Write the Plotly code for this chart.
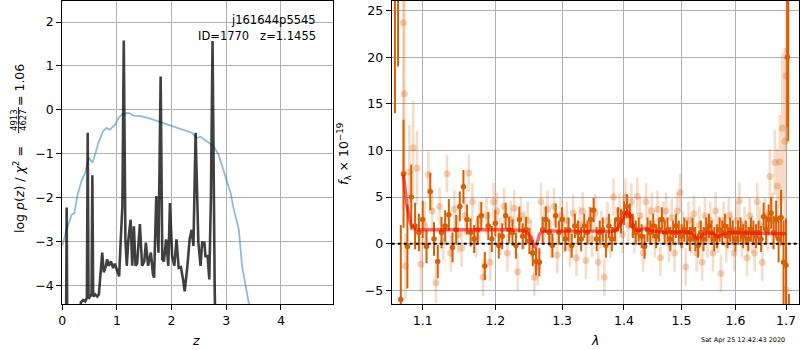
import plotly.graph_objects as go

# ---------------- left panel data ----------------
pz_z = [0.065, 0.08, 0.095, 0.30, 0.34, 0.38, 0.42, 0.45, 0.465, 0.48, 0.50, 0.535, 0.55, 0.565,
        0.60, 0.64, 0.67, 0.70, 0.73, 0.76, 0.80, 0.82, 0.85, 0.89, 0.93, 0.96, 0.99, 1.02, 1.04,
        1.07, 1.10, 1.125, 1.155, 1.18, 1.21, 1.25, 1.28, 1.31, 1.34, 1.37, 1.42, 1.46, 1.50, 1.53,
        1.57, 1.62, 1.66, 1.68, 1.72, 1.76, 1.80, 1.83, 1.86, 1.90, 1.94, 1.97, 2.01, 2.05, 2.09,
        2.13, 2.17, 2.21, 2.24, 2.29, 2.33, 2.37, 2.40, 2.44, 2.49, 2.53, 2.56, 2.60, 2.62, 2.66,
        2.69, 2.72, 2.75, 2.79, 2.82]
pz_logp = [-6, -2.22, -6, -6, -4.38, -4.33, -4.36, -4.28, -0.52, -4.3, -4.25, -4.2, -1.49, -4.25,
           -4.2, -4.25, -4.2, -3.8, -3.25, -3.7, -3.55, -3.4, -3.55, -3.45, -3.6, -3.5, -3.62, -3.7, -3.79,
           -2.95, -2.19, 1.58, -2.95, -3.55, -2.95, -2.5, -3.55, -2.65, -3.55, -3.5, -2.6, -3.55, -3.45, -3.02,
           -3.55, -3.25, -3.75, -3.82, -1.96, -3.25, 0.76, -3.4, -3.45, -2.95, -3.55, -2.12, -3.33, -3.55, -2.95,
           -3.6, -3.58, -3.86, -4.13, -3.55, -2.95, -2.73, -3.1, -0.52, -3.02, -3.55, -3.02, -3.02, -3.33, -3.33,
           -3.86, -2.0, 1.57, -4.16, -6]

prior_z = [0.0, 0.08, 0.17, 0.22, 0.275, 0.32, 0.35, 0.42, 0.48, 0.51, 0.55, 0.6, 0.66, 0.75, 0.81,
           0.87, 0.97, 1.03, 1.09, 1.18, 1.24, 1.3, 1.43, 1.61, 1.79, 1.98, 2.16, 2.37, 2.46, 2.53,
           2.65, 2.77, 2.86, 2.95, 3.08, 3.14, 3.23, 3.29, 3.35, 3.43, 3.5]
prior_logp = [-3.1, -2.72, -2.39, -2.35, -1.96, -1.77, -1.62, -1.43, -1.09, -1.13, -1.2, -1.02, -0.75, -0.48, -0.41,
              -0.45, -0.33, -0.18, -0.11, -0.07, -0.08, -0.13, -0.14, -0.2, -0.27, -0.36, -0.43, -0.52, -0.64, -0.61,
              -0.71, -0.83, -1.02, -1.36, -1.89, -2.27, -2.72, -3.55, -3.93, -4.4, -5.0]

left_xticks = [0, 1, 2, 3, 4]
left_yticks = [-4, -3, -2, -1, 0, 1, 2]

# ---------------- right panel data ----------------
dark_wave = [1.064, 1.068, 1.0715,
             1.075, 1.080, 1.085, 1.090, 1.095, 1.100, 1.105, 1.110, 1.115, 1.120, 1.125, 1.130, 1.135,
             1.140, 1.145, 1.150, 1.155, 1.160, 1.165, 1.170, 1.175, 1.180, 1.185, 1.190, 1.195, 1.200,
             1.205, 1.210, 1.215, 1.220, 1.225, 1.230, 1.235, 1.240, 1.245, 1.250, 1.255, 1.260, 1.265,
             1.270, 1.275, 1.280, 1.285, 1.290, 1.295, 1.300, 1.305, 1.310, 1.315, 1.320, 1.325, 1.330,
             1.335, 1.340, 1.345, 1.350, 1.355, 1.360, 1.365, 1.370, 1.375, 1.380, 1.385, 1.390, 1.395,
             1.400, 1.405, 1.410, 1.415, 1.420, 1.425, 1.430, 1.435, 1.440, 1.445, 1.450, 1.455, 1.460,
             1.465, 1.470, 1.475, 1.480, 1.485, 1.490, 1.495, 1.500, 1.505, 1.510, 1.515, 1.520, 1.525,
             1.530, 1.535, 1.540, 1.545, 1.550, 1.555, 1.560, 1.565, 1.570, 1.575, 1.580, 1.585, 1.590,
             1.595, 1.600, 1.605, 1.610, 1.615, 1.620, 1.625, 1.630, 1.635, 1.640, 1.645, 1.650, 1.655,
             1.660, 1.665, 1.670, 1.675, 1.680, 1.685, 1.690, 1.695, 1.700,
             1.7027, 1.7045, 1.706]
dark_flux = [30.0, 32.0, -6.0,
             7.5, -0.3, 5.0, 1.9, 1.2, 2.6, -0.3, 5.6, 0.5, -1.9, 1.2, 1.9, 3.1,
             -0.4, 1.5, 4.0, 6.1, 2.6, 1.2, 0.5, 1.5, 3.0, -2.4, 1.9, 0.5, 2.2,
             -0.2, 0.8, 3.0, 1.5, 1.2, -0.2, 2.6, 0.8, 1.5, 0.3, -1.0, -1.9, -2.0,
             1.5, 2.6, 1.2, -0.2, 3.0, 1.2, 2.6, 0.5, 1.5, -0.2, 1.9, 1.2, 0.5,
             1.9, 1.2, 2.6, 3.6, 0.5, 1.2, 1.5, -0.2, 1.9, 0.5, 1.5, 2.6, 2.4,
             3.3, 4.0, 3.0, 1.9, 1.2, 1.5, 0.8, -0.3, 1.5, 1.2, 1.9, 0.8, 1.5,
             2.6, 1.2, 1.5, 0.5, 1.2, 1.9, 1.2, 0.8, 1.5, 1.2, 0.5, 1.5, 0.5,
             -0.2, 1.2, 0.5, 1.5, 1.9, 1.2, 0.5, 0.8, 1.5, 1.2, 1.9, 0.8, 1.5,
             1.2, 0.5, 1.2, 1.5, 0.8, 1.2, 0.5, 1.5, 1.2, 0.8, 1.2, 0.5, 2.9,
             1.5, 2.6, 3.3, 1.2, 2.6, 0.5, 2.8, -2.0, -2.3,
             20.0, 27.0, -9.0]
dark_err = [16.0, 13.0, 8.0,
            5.8, 4.5, 3.5, 2.5, 2.0, 2.0, 1.8, 2.0, 1.8, 1.8, 1.7, 1.7, 1.7,
            1.6, 1.6, 1.6, 1.8, 1.6, 1.5, 1.5, 1.5, 1.5, 1.5, 1.5, 1.4, 1.4,
            1.4, 1.4, 1.4, 1.4, 1.4, 1.4, 1.4, 1.4, 1.4, 1.4, 1.4, 1.5, 1.5,
            1.4, 1.4, 1.4, 1.3, 1.3, 1.3, 1.3, 1.3, 1.3, 1.3, 1.3, 1.3, 1.3,
            1.3, 1.3, 1.3, 1.3, 1.3, 1.3, 1.3, 1.3, 1.3, 1.3, 1.3, 1.3, 1.3,
            1.3, 1.3, 1.3, 1.3, 1.3, 1.3, 1.3, 1.3, 1.3, 1.3, 1.3, 1.3, 1.3,
            1.3, 1.3, 1.3, 1.3, 1.3, 1.3, 1.3, 1.3, 1.3, 1.3, 1.3, 1.3, 1.3,
            1.3, 1.3, 1.3, 1.3, 1.3, 1.3, 1.3, 1.3, 1.3, 1.3, 1.3, 1.3, 1.3,
            1.3, 1.3, 1.3, 1.3, 1.3, 1.3, 1.3, 1.3, 1.3, 1.3, 1.3, 1.4, 1.5,
            1.5, 1.6, 1.7, 1.8, 2.0, 2.5, 3.0, 4.5, 5.0,
            7.5, 16.0, 3.6]

light_wave = [1.0747, 1.0761,
              1.0775, 1.0825, 1.0875, 1.0925, 1.0975, 1.1025, 1.1075, 1.1125, 1.1175, 1.1225, 1.1275,
              1.1325, 1.1375, 1.1425, 1.1475, 1.1525, 1.1575, 1.1625, 1.1675, 1.1725, 1.1775, 1.1825,
              1.1875, 1.1925, 1.1975, 1.2025, 1.2075, 1.2125, 1.2175, 1.2225, 1.2275, 1.2325, 1.2375,
              1.2425, 1.2475, 1.2525, 1.2575, 1.2625, 1.2675, 1.2725, 1.2775, 1.2825, 1.2875, 1.2925,
              1.2975, 1.3025, 1.3075, 1.3125, 1.3175, 1.3225, 1.3275, 1.3325, 1.3375, 1.3425, 1.3475,
              1.3525, 1.3575, 1.3625, 1.3675, 1.3725, 1.3775, 1.3825, 1.3875, 1.3925, 1.3975, 1.4025,
              1.4075, 1.4125, 1.4175, 1.4225, 1.4275, 1.4325, 1.4375, 1.4425, 1.4475, 1.4525, 1.4575,
              1.4625, 1.4675, 1.4725, 1.4775, 1.4825, 1.4875, 1.4925, 1.4975, 1.5025, 1.5075, 1.5125,
              1.5175, 1.5225, 1.5275, 1.5325, 1.5375, 1.5425, 1.5475, 1.5525, 1.5575, 1.5625, 1.5675,
              1.5725, 1.5775, 1.5825, 1.5875, 1.5925, 1.5975, 1.6025, 1.6075, 1.6125, 1.6175, 1.6225,
              1.6275, 1.6325, 1.6375, 1.6425, 1.6475, 1.6525, 1.6575, 1.6625, 1.6675, 1.6725, 1.6775,
              1.6825, 1.6875, 1.6925, 1.6975, 1.700, 1.7005]
light_flux = [23.7, 16.1,
              -2.4, 7.7, 10.3, 8.1, -2.2, 2.0, 7.4, 3.5, -4.2, 4.0, 0.2,
              7.5, -1.0, 3.7, 1.0, -0.5, 3.0, 7.6, 4.5, 0.5, 2.5, -3.6,
              3.0, -2.0, 4.5, 3.5, 0.8, 4.0, -1.0, 2.6, 3.8, -3.0, 3.0,
              1.5, 2.5, 0.5, -3.6, -2.5, 4.5, 2.0, 3.7, 0.5, 4.0, -1.2,
              3.0, 1.0, 2.5, -0.5, 3.3, -1.5, 2.0, 3.5, -1.8, 2.0, 0.5,
              3.3, -2.0, 1.5, -3.6, 2.5, 0.5, 5.0, 2.0, 3.5, 1.0, 5.0,
              2.0, 4.5, 1.0, 5.1, 3.0, -1.0, 4.5, 2.0, 3.5, 0.5, 3.7,
              -1.5, 2.5, 3.5, 0.0, 2.8, -1.0, 3.5, 5.5, 1.5, -2.5, 2.5,
              1.0, 3.2, -1.0, 2.0, -2.0, 3.0, 0.5, 2.5, -1.0, 3.5, 1.0,
              -3.2, 2.5, 0.0, 3.0, 1.5, -1.0, 2.5, 4.6, 0.5, 2.0, -1.5,
              3.0, 1.0, -1.0, 4.5, 2.0, -2.0, 3.0, 1.5, 7.2, 2.5, 8.7,
              6.2, 8.8, 12.4, 11.0, 18.0, -4.9]
light_err = [20.0, 12.0,
             3.5, 5.0, 5.0, 4.0, 3.0, 2.5, 2.5, 2.2, 2.2, 2.0, 2.0,
             2.0, 2.0, 2.0, 2.0, 2.0, 2.0, 2.0, 2.0, 2.0, 2.0, 2.0,
             2.0, 2.0, 2.0, 2.0, 2.0, 2.0, 2.0, 2.0, 2.0, 2.0, 2.0,
             2.0, 2.0, 2.0, 2.0, 2.0, 2.0, 2.0, 2.0, 2.0, 2.0, 2.0,
             2.0, 2.0, 2.0, 2.0, 2.0, 2.0, 2.0, 2.0, 2.0, 2.0, 2.0,
             2.0, 2.0, 2.0, 2.0, 2.0, 2.0, 2.0, 2.0, 2.0, 2.0, 2.0,
             2.0, 2.0, 2.0, 2.0, 2.0, 2.0, 2.0, 2.0, 2.0, 2.0, 2.0,
             2.0, 2.0, 2.0, 2.0, 2.0, 2.0, 2.0, 2.0, 2.0, 2.0, 2.0,
             2.0, 2.0, 2.0, 2.0, 2.0, 2.0, 2.0, 2.0, 2.0, 2.0, 2.0,
             2.0, 2.0, 2.0, 2.0, 2.0, 2.0, 2.0, 2.0, 2.0, 2.0, 2.0,
             2.0, 2.0, 2.0, 2.0, 2.0, 2.0, 2.0, 2.2, 3.0, 3.0, 3.5,
             4.0, 5.0, 8.0, 10.0, 8.0, 5.0]

model_wave = [1.0745, 1.076, 1.078, 1.080, 1.083, 1.0856, 1.0904, 1.10, 1.15, 1.20, 1.235, 1.245,
              1.252, 1.258, 1.262, 1.266, 1.275, 1.30, 1.35, 1.385, 1.393, 1.400, 1.406, 1.411,
              1.417, 1.425, 1.436, 1.445, 1.46, 1.50, 1.515, 1.522, 1.527, 1.533, 1.540, 1.546,
              1.556, 1.562, 1.567, 1.575, 1.589, 1.62, 1.66, 1.70]
model_flux = [7.4, 6.6, 5.2, 3.8, 2.6, 1.9, 1.55, 1.5, 1.5, 1.5, 1.45, 1.25,
              0.7, -0.35, 0.2, 1.1, 1.35, 1.35, 1.35, 1.4, 2.0, 2.9, 3.45, 2.9,
              1.6, 1.4, 1.65, 1.45, 1.25, 1.25, 1.2, 0.95, 0.6, 0.7, 1.0, 1.15,
              1.1, 0.9, 0.75, 0.95, 1.2, 1.15, 1.1, 1.07]

right_xticks = [1.1, 1.2, 1.3, 1.4, 1.5, 1.6, 1.7]
right_xticktext = ["1.1", "1.2", "1.3", "1.4", "1.5", "1.6", "1.7"]
right_yticks = [-5, 0, 5, 10, 15, 20, 25]
flux_range = [-6.47, 26.04]
zero_level = 0

title_lines = ["j161644p5545", "ID=1770   z=1.1455"]
timestamp = "Sat Apr 25 12:42:43 2020"

# ---------------- figure ----------------
W, H = 800, 350
FONT = "DejaVu Sans"
ORANGE = "rgb(217,95,2)"
LIGHT_BAR = "rgba(217,95,2,0.22)"
LIGHT_MK = "rgba(217,95,2,0.28)"


def minus_labels(vals):
    return [("\u2212" + str(-v)) if v < 0 else str(v) for v in vals]


fig = go.Figure()

fig.add_trace(go.Scatter(x=prior_z, y=prior_logp, mode="lines",
                         line=dict(color="rgba(31,119,180,0.5)", width=1.8),
                         xaxis="x", yaxis="y", showlegend=False))
fig.add_trace(go.Scatter(x=pz_z, y=pz_logp, mode="lines",
                         line=dict(color="rgba(0,0,0,0.75)", width=2.6),
                         xaxis="x", yaxis="y", showlegend=False))

fig.add_trace(go.Scatter(x=light_wave, y=light_flux, mode="markers",
                         marker=dict(color=LIGHT_MK, size=7, line=dict(width=0)),
                         error_y=dict(type="data", array=light_err, color=LIGHT_BAR,
                                      thickness=2.6, width=0),
                         xaxis="x2", yaxis="y2", showlegend=False))
fig.add_trace(go.Scatter(x=dark_wave, y=dark_flux, mode="markers",
                         marker=dict(color=ORANGE, size=5.5, line=dict(width=0)),
                         error_y=dict(type="data", array=dark_err, color=ORANGE,
                                      thickness=2.0, width=0),
                         xaxis="x2", yaxis="y2", showlegend=False))
fig.add_trace(go.Scatter(x=model_wave, y=model_flux, mode="lines",
                         line=dict(color="rgba(255,0,0,0.6)", width=3.4, shape="spline"),
                         xaxis="x2", yaxis="y2", showlegend=False))

axis_common = dict(showline=True, mirror=True, linecolor="black", linewidth=1,
                   showgrid=True, gridcolor="#b0b0b0", gridwidth=1,
                   ticks="outside", ticklen=5, tickcolor="black", tickwidth=1,
                   tickfont=dict(family=FONT, size=12.5, color="black"),
                   zeroline=False, automargin=False)

fig.update_layout(
    width=W, height=H, autosize=False,
    margin=dict(l=0, r=0, t=0, b=0, pad=0),
    paper_bgcolor="white", plot_bgcolor="white",
    font=dict(family=FONT, color="black"),
    xaxis=dict(domain=[62.3 / W, 333.3 / W], range=[0, 4.96], tickvals=left_xticks,
               anchor="y", **axis_common),
    yaxis=dict(domain=[1 - 304 / H, 1 - 1 / H], range=[-4.42, 2.48], tickvals=left_yticks,
               ticktext=minus_labels(left_yticks), anchor="x", **axis_common),
    xaxis2=dict(domain=[391.7 / W, 799.3 / W], type="log",
                range=[0.02526, 0.23737], tickvals=right_xticks, ticktext=right_xticktext,
                anchor="y2", **axis_common),
    yaxis2=dict(domain=[1 - 304 / H, 1 - 1 / H], range=flux_range, tickvals=right_yticks,
                ticktext=minus_labels(right_yticks), anchor="x2", **axis_common),
)

fig.add_shape(type="line", xref="x2 domain", yref="y2", x0=0, x1=1, y0=zero_level, y1=zero_level,
              line=dict(color="black", width=2, dash="dot"), layer="above")


def ann(text, x, y, size=12.5, angle=0, xanchor="center", yanchor="middle", color="black"):
    fig.add_annotation(text=text, x=x / W, y=1 - y / H, xref="paper", yref="paper",
                       showarrow=False, textangle=angle, xanchor=xanchor, yanchor=yanchor,
                       font=dict(family=FONT, size=size, color=color))


# left panel text
ann(title_lines[0], 318, 20, size=11.5, xanchor="right")
ann(title_lines[1], 318, 35.5, size=11.5, xanchor="right")

# left y label with fraction
ann("log <i>p</i>(<i>z</i>) / <i>χ</i><sup>2</sup> =", 19, 190, angle=-90)
ann("4913", 14, 120, size=8.5, angle=-90)
ann("4627", 23, 120, size=8.5, angle=-90)
fig.add_shape(type="line", xref="paper", yref="paper", x0=18.5 / W, x1=18.5 / W,
              y0=1 - 107 / H, y1=1 - 133 / H, line=dict(color="black", width=0.8))
ann("= 1.06", 19, 85, angle=-90)

# right y label
ann("<i>f</i><sub>λ</sub> × 10<sup>−19</sup>", 344, 154, angle=-90)

# x labels
ann("<i>z</i>", 196, 340)
ann("<i>λ</i>", 594.5, 340)

# timestamp
ann(timestamp, 742.5, 339.5, size=6.5)

fig.write_html("out.html", config={"displayModeBar": False},
               post_script="document.body.style.margin='0';document.body.style.padding='0';")
